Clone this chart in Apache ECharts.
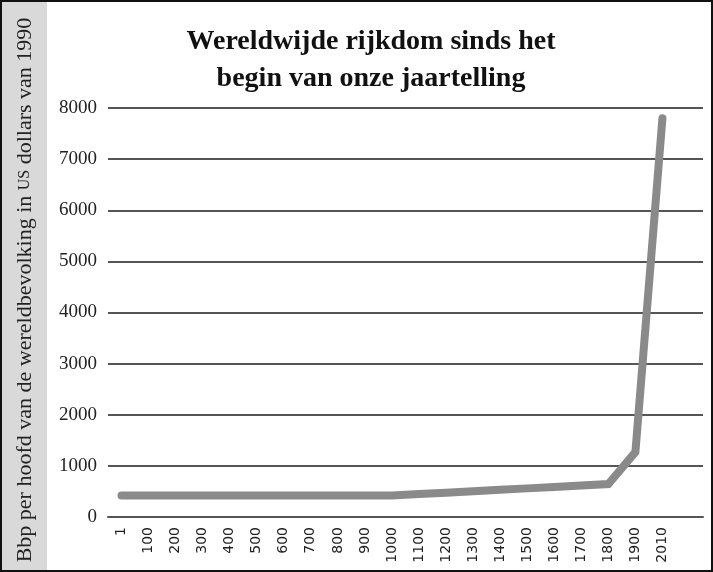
<!DOCTYPE html>
<html><head><meta charset="utf-8">
<script src="https://cdn.jsdelivr.net/npm/echarts@6/dist/echarts.min.js"></script>
<style>html,body{margin:0;padding:0;background:#fff}#c{width:713px;height:572px}</style>
</head><body><div id="c"></div>
<script>
const categories = ['1','100','200','300','400','500','600','700','800','900','1000','1100','1200','1300','1400','1500','1600','1700','1800','1900','2010',''];
const gdpPerCapita = [420,420,420,420,420,420,420,420,420,420,420,448,476,504,532,560,588,616,645,1270,7800,null];
const yTicks = {min:0, max:8000, interval:1000};
const titleLines = 'Wereldwijde rijkdom sinds het\nbegin van onze jaartelling';

const chart = echarts.init(document.getElementById('c'), null, {renderer:'canvas'});
chart.setOption({
  animation:false,
  backgroundColor:'#fff',
  title:{text:titleLines, left:366, textAlign:'center', top:18,
    textStyle:{fontFamily:'Liberation Serif', fontWeight:'bold', fontSize:28, color:'#111', lineHeight:37}},
  graphic:[
    {type:'rect', shape:{x:1,y:1,width:711,height:570}, style:{fill:'none', stroke:'#111', lineWidth:2}, z:10},
    {type:'rect', shape:{x:2,y:2,width:45,height:568}, style:{fill:'#d9d9d9'}, z:-1},
    {type:'text', x:25, y:290, rotation:Math.PI/2,
      style:{text:'Bbp per hoofd van de wereldbevolking in {sc|US} dollars van 1990',
        rich:{sc:{fontFamily:'Liberation Serif', fontSize:16, fill:'#222'}},
        fontFamily:'Liberation Serif', fontSize:22, fill:'#222', align:'center', verticalAlign:'middle'}}
  ],
  grid:{left:108, right:10, top:108, bottom:55, containLabel:false},
  xAxis:{type:'category', data:categories, boundaryGap:true,
    axisLine:{lineStyle:{color:'#555', width:2}}, axisTick:{show:false},
    axisLabel:{rotate:90, interval:0, margin:10, fontFamily:'DejaVu Sans', fontSize:14, color:'#222'}},
  yAxis:{type:'value', min:yTicks.min, max:yTicks.max, interval:yTicks.interval,
    axisLine:{show:false}, axisTick:{show:false},
    axisLabel:{margin:11, fontFamily:'Liberation Serif', fontSize:19, color:'#222', formatter:v=>String(v)},
    splitLine:{lineStyle:{color:'#555', width:2}}},
  series:[{type:'line', data:gdpPerCapita, symbol:'none', connectNulls:false,
    lineStyle:{color:'#8a8a8a', width:8, cap:'round', join:'miter'}}]
});
</script></body></html>
